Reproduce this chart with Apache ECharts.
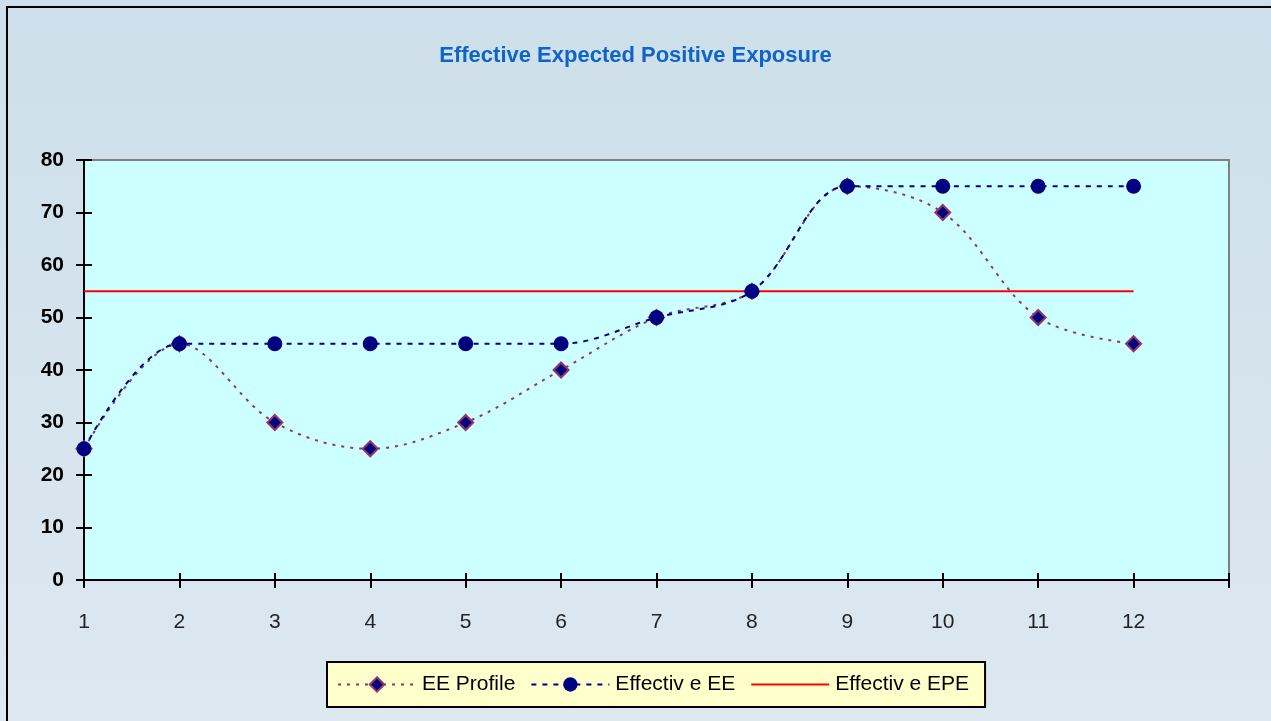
<!DOCTYPE html>
<html>
<head>
<meta charset="utf-8">
<script src="https://cdn.jsdelivr.net/npm/echarts@6/dist/echarts.min.js"></script>
<style>html,body{margin:0;padding:0;}#c{width:1271px;height:721px;}</style>
</head>
<body>
<div id="c"></div>
<script>
var periods = [1,2,3,4,5,6,7,8,9,10,11,12];
var eeProfile = [25,45,30,25,30,40,50,55,75,70,50,45];
var effectiveEE = [25,45,45,45,45,45,50,55,75,75,75,75];
var effectiveEPE = [55,55,55,55,55,55,55,55,55,55,55,55];
var seriesNames = ['EE Profile','Effectiv e EE','Effectiv e EPE'];
var titleText = 'Effective Expected Positive Exposure';

function pairs(xs, ys){ return xs.map(function(x,i){return [x, ys[i]];}); }

var FONT = 'Liberation Sans';
var chart = echarts.init(document.getElementById('c'));
chart.setOption({
  animation: false,
  backgroundColor: new echarts.graphic.LinearGradient(0,0,0,1,[{offset:0,color:'#CDDFEA'},{offset:1,color:'#DDE8F0'}]),
  graphic: [{type:'rect', shape:{x:7,y:7,width:1320,height:800}, style:{fill:null, stroke:'#000', lineWidth:2}, z:100}],
  title: {text: titleText, left:'center', top:40, textStyle:{color:'#0F64C8', fontFamily:FONT, fontWeight:'bold', fontSize:22}},
  grid: {left:84, right:42, top:160, bottom:141, show:true, backgroundColor:'#CCFFFF', borderColor:'#808080', borderWidth:2},
  xAxis: [{
    type:'value', min:1, max:13, interval:1,
    axisLine:{onZero:false, lineStyle:{color:'#000', width:2}},
    axisTick:{length:8, lineStyle:{color:'#000', width:2}},
    axisLabel:{margin:32, color:'#222', fontFamily:FONT, fontSize:21, formatter:function(v){return v<=12?String(v):'';}},
    splitLine:{show:false}
  },{
    type:'value', min:1, max:13, interval:1, position:'bottom',
    axisLine:{show:false}, axisTick:{inside:true, length:7, lineStyle:{color:'#000', width:2}},
    axisLabel:{show:false}, splitLine:{show:false}
  }],
  yAxis: [{
    type:'value', min:0, max:80, interval:10,
    axisLine:{show:true, lineStyle:{color:'#000', width:2}},
    axisTick:{show:true, length:8, lineStyle:{color:'#000', width:2}},
    axisLabel:{margin:20, color:'#000', fontFamily:FONT, fontWeight:'bold', fontSize:21},
    splitLine:{show:false}
  },{
    type:'value', min:0, max:80, interval:10, position:'left',
    axisLine:{show:false}, axisTick:{show:true, inside:true, length:8, lineStyle:{color:'#000', width:2}},
    axisLabel:{show:false}, splitLine:{show:false}
  }],
  legend: {
    left:327, top:662, padding:[12,16,12,10], itemGap:15, itemWidth:78, itemHeight:18,
    backgroundColor:'#FFFFCC', borderColor:'#000', borderWidth:2,
    textStyle:{color:'#000', fontFamily:FONT, fontSize:21, padding:[0,0,0,1]},
    data: [
      {name: seriesNames[0]},
      {name: seriesNames[1]},
      {name: seriesNames[2], itemStyle:{opacity:0}}
    ]
  },
  series: [
    {name:seriesNames[2], type:'line', data:pairs(periods, effectiveEPE), symbol:'none',
     lineStyle:{color:'#FF0000', width:2}, itemStyle:{color:'#FF0000'}, z:1},
    {name:seriesNames[0], type:'line', data:pairs(periods, eeProfile), smooth:0.35,
     symbol:'diamond', symbolSize:15,
     lineStyle:{color:'#993366', width:2, type:[3,6]},
     itemStyle:{color:'#000080', borderColor:'#993366', borderWidth:2}, z:2},
    {name:seriesNames[1], type:'line', data:pairs(periods, effectiveEE), smooth:0.35,
     symbol:'circle', symbolSize:15,
     lineStyle:{color:'#000080', width:2, type:[5,6]},
     itemStyle:{color:'#000080'}, z:3}
  ]
});
</script>
</body>
</html>
